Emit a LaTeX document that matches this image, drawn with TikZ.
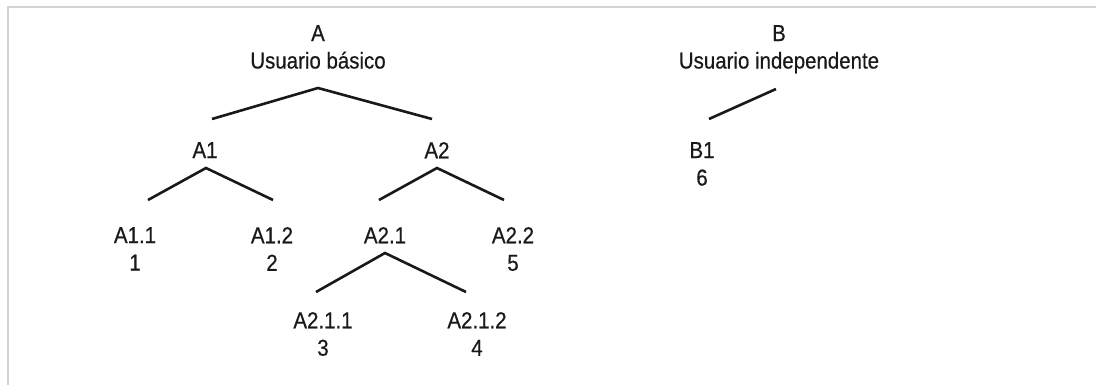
\documentclass[tikz,border=0pt]{standalone}
\usepackage{fontspec}
\setmainfont[FakeStretch=0.89,FakeBold=0.5]{Liberation Sans}
\begin{document}
\begin{tikzpicture}[x=1pt,y=-1pt,
  lbl/.style={align=center, inner sep=0pt, anchor=north, text=black!90,
    font=\fontsize{23}{27.5}\selectfont},
  branch/.style={line width=2.6pt, black!90},
  frame/.style={line width=2.6pt, black!17}]
\useasboundingbox (0,0) rectangle (1096,385);
\draw[frame] (8,385) -- (8,7) -- (1096,7);
% nodes
\node[lbl] (A) at (318,25) {A\\Usuario básico};
\node[lbl] (B) at (779,25) {B\\Usuario independente};
\node[lbl] (A1) at (205,142) {A1};
\node[lbl] (A2) at (437,142) {A2};
\node[lbl] (B1) at (702,142) {B1\\6};
\node[lbl] (A11) at (135,227) {A1.1\\1};
\node[lbl] (A12) at (272,227) {A1.2\\2};
\node[lbl] (A21) at (385,227) {A2.1};
\node[lbl] (A22) at (513,227) {A2.2\\5};
\node[lbl] (A211) at (323,312) {A2.1.1\\3};
\node[lbl] (A212) at (477,312) {A2.1.2\\4};
% branch points
\coordinate (A-ap) at (318,88);
\coordinate (A1-e) at (212,119);
\coordinate (A2-e) at (432,119);
\coordinate (A1-ap) at (206,168);
\coordinate (A11-e) at (148,200);
\coordinate (A12-e) at (273,200);
\coordinate (A2-ap) at (437,168);
\coordinate (A21-e) at (379,200);
\coordinate (A22-e) at (504,200);
\coordinate (A21-ap) at (385,253);
\coordinate (A211-e) at (316,292);
\coordinate (A212-e) at (466,292);
\coordinate (B-ap) at (776,89);
\coordinate (B1-e) at (709,119);
% connectors
\draw[branch] (A1-e) -- (A-ap) -- (A2-e);
\draw[branch] (A11-e) -- (A1-ap) -- (A12-e);
\draw[branch] (A21-e) -- (A2-ap) -- (A22-e);
\draw[branch] (A211-e) -- (A21-ap) -- (A212-e);
\draw[branch] (B1-e) -- (B-ap);
\end{tikzpicture}
\end{document}
